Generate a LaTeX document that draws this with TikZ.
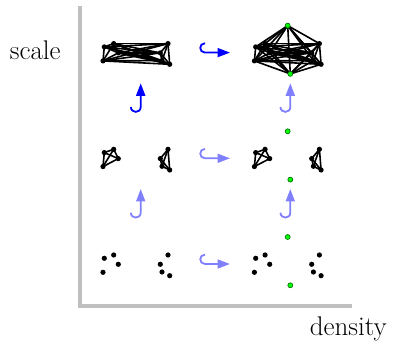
\documentclass[tikz,border=0pt]{standalone}
\usepackage{fontspec}
\usetikzlibrary{arrows.meta}
\begin{document}
\begin{tikzpicture}[x=1pt,y=-1pt,
  edge/.style={line width=1.6pt, black},
  dot/.style={circle, fill=black, inner sep=0pt, minimum size=5.2pt},
  gdot/.style={circle, fill=green, draw=black!60!green, line width=0.6pt, inner sep=0pt, minimum size=5pt},
  hookarrow/.style={line width=1.8pt, -{Triangle[length=12.5pt,width=9pt]}},
  strong/.style={blue},
  weak/.style={blue!50},
  axis/.style={line width=4pt, gray!50},
  lab/.style={font=\fontsize{27}{30}\selectfont, inner sep=0pt, anchor=base}]
\useasboundingbox (0,0) rectangle (397,344);

% axes
\coordinate (ytop) at (79.5,6);
\coordinate (orig) at (79.5,306.5);
\coordinate (xend) at (351.5,306.5);
\draw[axis] (ytop) -- (orig) -- (xend);
\node[lab] (scale) at (35.3,60) {scale};
\node[lab] (density) at (348.3,336) {density};

% point coordinates
\def\pts{104.3/258.3, 113.7/255, 118.3/264.3, 103/272.3, 168/255, 160.3/264.3, 162/272, 169.7/275.7}
\foreach \r/\dy in {b/0, m/105.7, t/211.4} {
  \foreach \x/\y [count=\i] in \pts {
    \coordinate (\r L\i) at (\x,\y-\dy);
    \coordinate (\r R\i) at (\x+151.4,\y-\dy);
  }
  \coordinate (\r R9) at (287.7,237-\dy);
  \coordinate (\r R10) at (290.3,285.3-\dy);
}

% top row: complete graphs
\foreach \i in {1,...,7} {
  \pgfmathtruncatemacro\k{\i+1}
  \foreach \j in {\k,...,8} { \draw[edge] (tL\i) -- (tL\j); }
}
\foreach \i in {1,...,9} {
  \pgfmathtruncatemacro\k{\i+1}
  \foreach \j in {\k,...,10} { \draw[edge] (tR\i) -- (tR\j); }
}
% middle row: K4 per cluster
\foreach \c in {L,R} {
  \foreach \i/\j in {1/2,1/3,1/4,2/3,2/4,3/4,5/6,5/7,5/8,6/7,6/8,7/8} {
    \draw[edge] (m\c\i) -- (m\c\j);
  }
}

% dots
\foreach \r in {t,m,b} {
  \foreach \c in {L,R} {
    \foreach \i in {1,...,8} { \node[dot] (d\r\c\i) at (\r\c\i) {}; }
  }
  \node[gdot] (d\r R9) at (\r R9) {};
  \node[gdot] (d\r R10) at (\r R10) {};
}

% horizontal hook arrows
\foreach \n/\Y/\s in {1/52.6/strong, 2/158.3/weak, 3/264/weak} {
  \coordinate (hs\n) at (205,\Y-9.4);
  \coordinate (hb\n) at (205,\Y);
  \coordinate (ht\n) at (230,\Y);
  \draw[hookarrow,\s] (hs\n) .. controls +(-6.3,0) and +(-6.3,0) .. (hb\n) -- (ht\n);
}
% vertical hook arrows
\foreach \n/\X/\Y/\s in {1/140.7/107/strong, 2/290.3/107/weak, 3/140.7/212.7/weak, 4/290.3/212.7/weak} {
  \coordinate (vs\n) at (\X-9.8,\Y);
  \coordinate (vb\n) at (\X,\Y);
  \coordinate (vt\n) at (\X,\Y-23.7);
  \draw[hookarrow,\s] (vs\n) .. controls +(0,6.5) and +(0,6.5) .. (vb\n) -- (vt\n);
}
\end{tikzpicture}
\end{document}
